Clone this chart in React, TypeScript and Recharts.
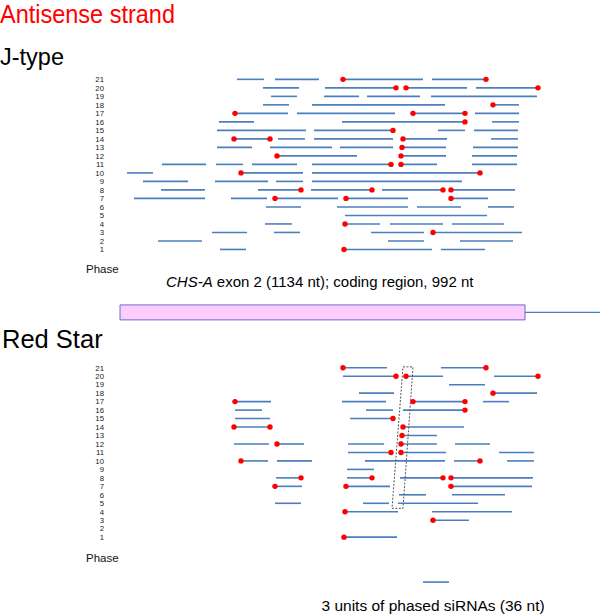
import React from "react";
import {
  ComposedChart,
  XAxis,
  YAxis,
  Scatter,
  ReferenceLine,
  ReferenceArea,
} from "recharts";

// [phase, start, end] in figure position units
const JTYPE_SEGMENTS: [number, number, number][] = [
  [21, 237, 264], [21, 275, 319], [21, 343, 423], [21, 432, 486],
  [20, 263, 299], [20, 325, 396], [20, 406, 467], [20, 476, 538],
  [19, 271, 297], [19, 324, 359], [19, 367, 420], [19, 431, 537],
  [18, 263, 289], [18, 312, 445], [18, 493, 519],
  [17, 235, 288], [17, 297, 395], [17, 413, 465], [17, 475, 519],
  [16, 219, 254], [16, 342, 465], [16, 492, 519],
  [15, 217, 306], [15, 314, 393], [15, 438, 465], [15, 474, 518],
  [14, 234, 270], [14, 278, 305], [14, 314, 393], [14, 403, 447], [14, 491, 518],
  [13, 217, 252], [13, 270, 332], [13, 340, 393], [13, 402, 446], [13, 473, 518],
  [12, 277, 357], [12, 401, 446], [12, 472, 517],
  [11, 162, 206], [11, 216, 243], [11, 252, 297], [11, 312, 391], [11, 401, 437], [11, 472, 517],
  [10, 127, 153], [10, 241, 303], [10, 312, 480],
  [9, 143, 188], [9, 215, 268], [9, 276, 303], [9, 312, 462],
  [8, 161, 205], [8, 258, 301], [8, 311, 372], [8, 382, 443], [8, 451, 515],
  [7, 134, 205], [7, 231, 267], [7, 275, 338], [7, 346, 408], [7, 451, 488],
  [6, 266, 301], [6, 337, 408], [6, 417, 461], [6, 488, 514],
  [5, 345, 487],
  [4, 265, 292], [4, 345, 380], [4, 390, 443], [4, 452, 504],
  [3, 212, 247], [3, 274, 300], [3, 371, 424], [3, 433, 522],
  [2, 158, 202], [2, 388, 424], [2, 460, 513],
  [1, 220, 246], [1, 344, 432], [1, 441, 485],
];

const REDSTAR_SEGMENTS: [number, number, number][] = [
  [21, 343, 387], [21, 441, 486],
  [20, 343, 396], [20, 406, 443], [20, 494, 538],
  [19, 449, 485],
  [18, 359, 394], [18, 493, 537],
  [17, 235, 271], [17, 342, 386], [17, 413, 465], [17, 483, 509],
  [16, 235, 262], [16, 366, 393], [16, 403, 465],
  [15, 235, 270], [15, 350, 393],
  [14, 234, 270], [14, 403, 464],
  [13, 402, 437],
  [12, 234, 269], [12, 277, 304], [12, 348, 384], [12, 401, 437], [12, 455, 490],
  [11, 348, 391], [11, 401, 446], [11, 499, 534],
  [10, 241, 268], [10, 277, 312], [10, 365, 445], [10, 454, 480], [10, 507, 534],
  [9, 347, 374],
  [8, 276, 301], [8, 347, 372], [8, 400, 443], [8, 451, 533],
  [7, 275, 302], [7, 346, 390], [7, 451, 532],
  [6, 399, 426], [6, 452, 505],
  [5, 275, 301], [5, 363, 389], [5, 398, 478],
  [4, 345, 398], [4, 432, 512],
  [3, 433, 469],
  [1, 344, 397],
];

// [phase, position] of the red marks (same in both panels)
const PHASED_DOTS: [number, number][] = [
  [21, 343], [21, 486], [20, 396], [20, 406], [20, 538], [18, 493],
  [17, 235], [17, 413], [17, 465], [16, 465], [15, 393],
  [14, 234], [14, 270], [14, 403], [13, 402], [12, 277], [12, 401],
  [11, 391], [11, 401], [10, 241], [10, 480],
  [8, 301], [8, 372], [8, 443], [8, 451],
  [7, 275], [7, 346], [7, 451], [4, 345], [3, 433], [1, 344],
];

const PHASE_TICKS = [1, 2, 3, 4, 5, 6, 7, 8, 9, 10, 11, 12, 13, 14, 15, 16, 17, 18, 19, 20, 21];

// gene model: coding region box, then the rest of the exon
const CODING_REGION = [120, 525];
const EXON_END = 600;
const GENE_ROW = -6.4;

// dashed box around the 3 phased units
const UNIT_BOX = [
  { x: 403, y: 21.1 },
  { x: 413, y: 21.1 },
  { x: 403, y: 4.4 },
  { x: 392, y: 4.4 },
  { x: 403, y: 21.1 },
];
// scale bar: 36 nt
const SCALE_BAR = { start: 423, end: 449, row: -4.3 };

const BLUE = "#4a7ebf";
const FONT = "'Liberation Sans', Arial, Helvetica, sans-serif";

const redDot = (p: any) => <circle cx={p.cx} cy={p.cy} r={2.7} fill="#ff0000" />;
const noShape = () => <g />;

function PhasePanel({
  segments,
  top,
  height,
  marginTop,
  yDomain,
  extras,
}: {
  segments: [number, number, number][];
  top: number;
  height: number;
  marginTop: number;
  yDomain: [number, number];
  extras: React.ReactNode[];
}) {
  const dots = PHASED_DOTS.map(([phase, pos]) => ({ x: pos, y: phase }));
  return (
    <div style={{ position: "absolute", left: 0, top }}>
      <ComposedChart
        width={600}
        height={height}
        margin={{ top: marginTop, right: 0, bottom: 0, left: 0 }}
      >
        <XAxis type="number" dataKey="x" domain={[110, 600]} hide allowDataOverflow />
        <YAxis
          type="number"
          dataKey="y"
          domain={yDomain}
          ticks={PHASE_TICKS}
          interval={0}
          width={110}
          axisLine={false}
          tickLine={false}
          tickSize={0}
          tickMargin={6}
          tick={{ fontSize: 7.8, fill: "#222", fontFamily: FONT }}
          allowDataOverflow
        />
        {extras}
        {segments.map(([phase, start, end], i) => (
          <ReferenceLine
            key={"s" + i}
            segment={[
              { x: start, y: phase },
              { x: end, y: phase },
            ]}
            stroke={BLUE}
            strokeWidth={1.6}
          />
        ))}
        <Scatter data={dots} shape={redDot} isAnimationActive={false} />
      </ComposedChart>
    </div>
  );
}

export default function App() {
  const geneExtras = [
    <ReferenceArea
      key="coding"
      x1={CODING_REGION[0]}
      x2={CODING_REGION[1]}
      y1={GENE_ROW - 0.88}
      y2={GENE_ROW + 0.88}
      fill="#ffccff"
      fillOpacity={1}
      stroke="#6a6acc"
      strokeWidth={1}
    />,
    <ReferenceLine
      key="exon"
      segment={[
        { x: CODING_REGION[1], y: GENE_ROW },
        { x: EXON_END, y: GENE_ROW },
      ]}
      stroke={BLUE}
      strokeWidth={1.2}
    />,
  ];
  const starExtras = [
    <Scatter
      key="box"
      data={UNIT_BOX}
      shape={noShape}
      line={{ stroke: "#555", strokeWidth: 1, strokeDasharray: "2 1.5" }}
      lineType="joint"
      isAnimationActive={false}
    />,
    <ReferenceLine
      key="bar"
      segment={[
        { x: SCALE_BAR.start, y: SCALE_BAR.row },
        { x: SCALE_BAR.end, y: SCALE_BAR.row },
      ]}
      stroke={BLUE}
      strokeWidth={1.6}
    />,
  ];

  return (
    <div
      style={{
        position: "absolute",
        left: 0,
        top: 0,
        width: 600,
        height: 614,
        background: "#fff",
        fontFamily: FONT,
      }}
    >
      <PhasePanel
        segments={JTYPE_SEGMENTS}
        top={66}
        height={260}
        marginTop={9.1}
        yDomain={[-8, 21.5]}
        extras={geneExtras}
      />
      <PhasePanel
        segments={REDSTAR_SEGMENTS}
        top={355}
        height={233}
        marginTop={8.5}
        yDomain={[-5, 21.5]}
        extras={starExtras}
      />
      <svg
        width={600}
        height={614}
        style={{ position: "absolute", left: 0, top: 0, pointerEvents: "none" }}
        fontFamily={FONT}
      >
        <text
          x={0}
          y={0}
          fontSize={23.5}
          fill="#ff0000"
          transform="translate(0,23.3) scale(1,1.12)"
        >
          Antisense strand
        </text>
        <text x={0} y={64.5} fontSize={23.5} fill="#000">J-type</text>
        <text x={86} y={273} fontSize={11.5} fill="#111">Phase</text>
        <text x={166} y={286.5} fontSize={15} fill="#000">
          <tspan fontStyle="italic">CHS-A</tspan> exon 2 (1134 nt); coding region, 992 nt
        </text>
        <text x={2} y={348} fontSize={25.5} fill="#000">Red Star</text>
        <text x={86} y={561.5} fontSize={11.5} fill="#111">Phase</text>
        <text x={321.5} y={610.5} fontSize={15.5} fill="#000">3 units of phased siRNAs (36 nt)</text>
      </svg>
    </div>
  );
}
